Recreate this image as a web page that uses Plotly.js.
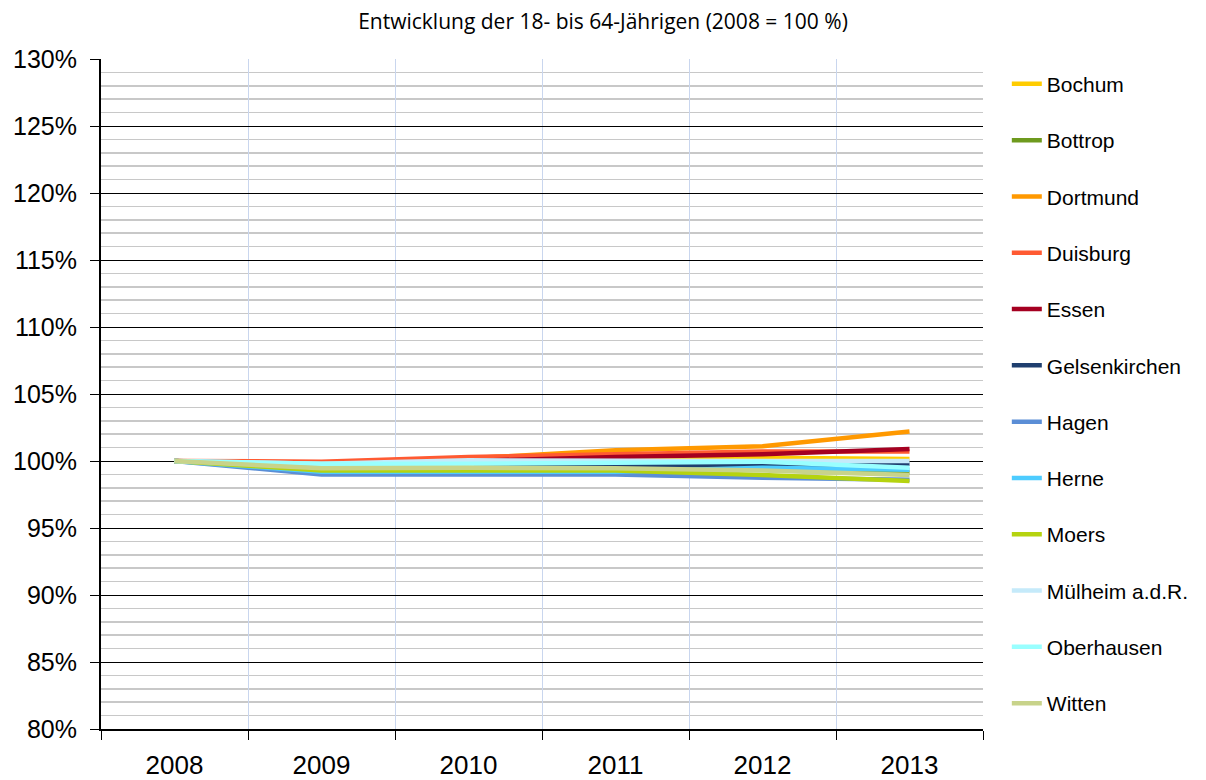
<!DOCTYPE html>
<html>
<head>
<meta charset="utf-8">
<script src="https://cdn.plot.ly/plotly-3.0.1.min.js"></script>
<style>html,body{margin:0;padding:0;background:#fff;}#chart{width:1206px;height:780px;}</style>
</head>
<body>
<div id="chart"></div>
<script>
const years = ["2008", "2009", "2010", "2011", "2012", "2013"];
const cities = ["Bochum", "Bottrop", "Dortmund", "Duisburg", "Essen", "Gelsenkirchen", "Hagen", "Herne", "Moers", "Mülheim a.d.R.", "Oberhausen", "Witten"];
const bochum        = [100, 99.6, 99.8, 100.0, 100.25, 100.15];
const bottrop       = [100, 99.5, 99.6, 99.65, 99.5, 99.15];
const dortmund      = [100, 99.8, 100.2, 100.8, 101.1, 102.2];
const duisburg      = [100, 99.95, 100.3, 100.5, 100.7, 100.7];
const essen         = [100, 99.7, 100.0, 100.3, 100.5, 100.9];
const gelsenkirchen = [100, 99.5, 99.6, 99.7, 99.6, 99.8];
const hagen         = [100, 99.0, 99.0, 99.0, 98.75, 98.6];
const herne         = [100, 99.2, 99.2, 99.2, 99.5, 99.35];
const moers         = [100, 99.3, 99.3, 99.3, 98.95, 98.5];
const muelheim      = [100, 99.8, 100.05, 100.0, 100.0, 100.0];
const oberhausen    = [100, 99.8, 99.8, 99.9, 99.95, 99.5];
const witten        = [100, 99.45, 99.5, 99.45, 99.3, 98.95];
const seriesValues = [bochum, bottrop, dortmund, duisburg, essen, gelsenkirchen, hagen, herne, moers, muelheim, oberhausen, witten];
const colors = ["#FFCC00", "#6E9A1E", "#FF9900", "#FF5A32", "#A50021", "#1F3F6F", "#5B8ED6", "#4DCCFF", "#B5D30F", "#C5EAFA", "#99FFFF", "#C8D38A"];

const traces = cities.map((c, i) => ({
  type: "scatter", mode: "lines", name: c, x: years, y: seriesValues[i],
  line: {color: colors[i], width: 4.5}, legendgroup: "g" + i
}));

const layout = {
  width: 1206, height: 780,
  margin: {l: 101, r: 221, t: 59, b: 51},
  paper_bgcolor: "#fff", plot_bgcolor: "#fff",
  title: {text: "Entwicklung der 18- bis 64-Jährigen (2008 = 100 %)", font: {family: "Open Sans", size: 21, color: "#000"}, x: 0.5, xanchor: "center", y: 0.972, yanchor: "middle"},
  xaxis: {
    type: "category", range: [-0.5, 5.5], tickson: "boundaries",
    showgrid: true, gridcolor: "#C9D6EE", gridwidth: 1,
    ticks: "outside", ticklen: 9, tickcolor: "#000", tickwidth: 1,
    showline: true, linecolor: "#000", linewidth: 2,
    ticklabelstandoff: 12,
    tickfont: {family: "Liberation Sans, Arial", size: 26, color: "#000"},
    fixedrange: true
  },
  yaxis: {
    range: [80, 130], dtick: 5, tick0: 80, ticksuffix: "%",
    showgrid: true, gridcolor: "#000", gridwidth: 1,
    minor: {dtick: 1, showgrid: true, gridcolor: "#C8C8C8", gridwidth: 1.5},
    ticks: "outside", ticklen: 9, tickcolor: "#000",
    showline: true, linecolor: "#000", linewidth: 2,
    zeroline: false,
    ticklabelstandoff: 8,
    tickfont: {family: "Liberation Sans, Arial", size: 25, color: "#000"},
    fixedrange: true
  },
  showlegend: true,
  legend: {
    x: 1.027, xanchor: "left", y: 0.993, yanchor: "top",
    font: {family: "Liberation Sans, Arial", size: 21, color: "#000"},
    traceorder: "grouped", tracegroupgap: 26, itemwidth: 30,
    bgcolor: "rgba(0,0,0,0)"
  }
};

Plotly.newPlot("chart", traces, layout, {displayModeBar: false, staticPlot: true});
</script>
</body>
</html>
